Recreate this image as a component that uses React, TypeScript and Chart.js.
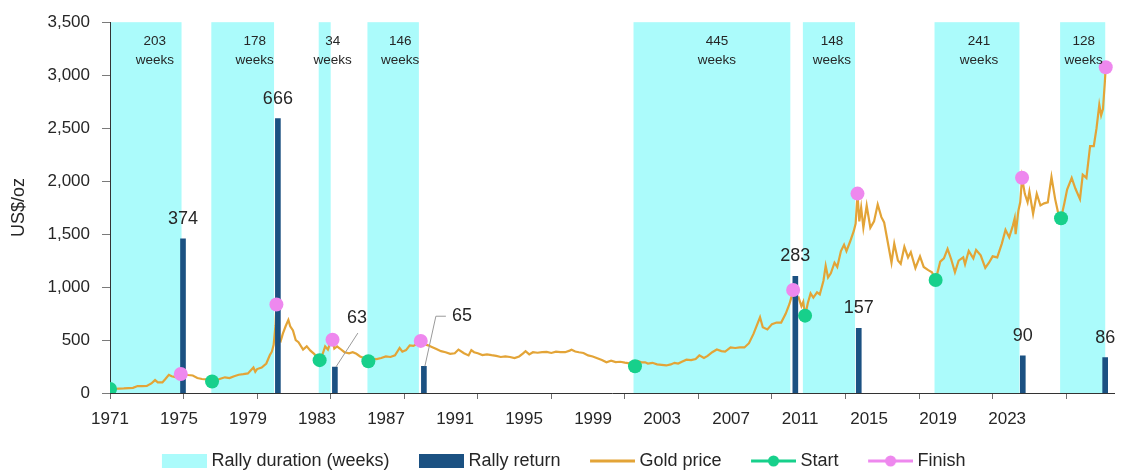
import { useEffect, useRef } from 'react';
import { Chart, registerables } from 'chart.js';

Chart.register(...registerables);

// Gold price (US$/oz) sampled through time, decimal years
const goldYears = [
  1971.0, 1971.25, 1971.5, 1971.75, 1972.0, 1972.25, 1972.5, 1972.75, 1973.0, 1973.25, 1973.45, 1973.6, 1973.85,
  1974.0, 1974.2, 1974.35, 1974.55, 1974.7, 1974.85, 1975.0, 1975.25, 1975.5, 1975.75, 1976.0, 1976.25, 1976.4,
  1976.55, 1976.75, 1977.0, 1977.25, 1977.5, 1977.75, 1978.0, 1978.25, 1978.5, 1978.8, 1978.9, 1979.0, 1979.25,
  1979.5, 1979.7, 1979.8, 1979.9, 1980.0, 1980.05, 1980.12, 1980.2, 1980.28, 1980.4, 1980.55, 1980.7, 1980.8,
  1980.95, 1981.1, 1981.25, 1981.5, 1981.7, 1981.9, 1982.1, 1982.3, 1982.4, 1982.55, 1982.7, 1982.85, 1982.95,
  1983.1, 1983.2, 1983.35, 1983.5, 1983.75, 1984.0, 1984.2, 1984.4, 1984.6, 1984.8, 1984.95, 1985.05, 1985.25,
  1985.5, 1985.75, 1986.0, 1986.25, 1986.5, 1986.75, 1986.9, 1987.1, 1987.3, 1987.5, 1987.7, 1987.9, 1988.1,
  1988.3, 1988.5, 1988.75, 1989.0, 1989.25, 1989.5, 1989.75, 1989.95, 1990.25, 1990.5, 1990.65, 1990.8, 1991.0,
  1991.25, 1991.5, 1991.75, 1992.0, 1992.25, 1992.5, 1992.75, 1993.0, 1993.25, 1993.45, 1993.6, 1993.8, 1994.0,
  1994.25, 1994.5, 1994.75, 1995.0, 1995.25, 1995.5, 1995.75, 1996.0, 1996.1, 1996.3, 1996.5, 1996.75, 1997.0,
  1997.25, 1997.5, 1997.75, 1998.0, 1998.25, 1998.5, 1998.75, 1999.0, 1999.25, 1999.45, 1999.55, 1999.75, 1999.9,
  2000.1, 2000.25, 2000.5, 2000.75, 2001.0, 2001.25, 2001.5, 2001.7, 2001.9, 2002.1, 2002.35, 2002.6, 2002.85,
  2003.05, 2003.3, 2003.5, 2003.75, 2004.0, 2004.25, 2004.45, 2004.75, 2005.0, 2005.25, 2005.5, 2005.75, 2006.0,
  2006.35, 2006.5, 2006.75, 2007.0, 2007.25, 2007.5, 2007.75, 2007.95, 2008.05, 2008.15, 2008.3, 2008.45, 2008.6,
  2008.7, 2008.8, 2008.95, 2009.1, 2009.25, 2009.45, 2009.6, 2009.8, 2009.92, 2010.05, 2010.2, 2010.4, 2010.55,
  2010.75, 2010.92, 2011.05, 2011.25, 2011.45, 2011.55, 2011.65, 2011.75, 2011.85, 2011.97, 2012.15, 2012.35,
  2012.55, 2012.75, 2012.95, 2013.1, 2013.3, 2013.5, 2013.65, 2013.85, 2014.0, 2014.2, 2014.4, 2014.55, 2014.8,
  2015.05, 2015.25, 2015.5, 2015.7, 2015.9, 2016.15, 2016.35, 2016.55, 2016.75, 2016.95, 2017.15, 2017.4, 2017.5,
  2017.7, 2017.95, 2018.1, 2018.35, 2018.6, 2018.8, 2019.0, 2019.25, 2019.5, 2019.7, 2019.9, 2020.1, 2020.2,
  2020.25, 2020.4, 2020.5, 2020.6, 2020.75, 2020.9, 2021.0, 2021.2, 2021.4, 2021.6, 2021.8, 2022.0, 2022.2,
  2022.4, 2022.55, 2022.72, 2022.9, 2023.05, 2023.3, 2023.5, 2023.75, 2023.9, 2024.1, 2024.3, 2024.5, 2024.65,
  2024.8, 2024.9, 2025.0, 2025.1, 2025.15,
];
const goldPrices = [
  38, 40, 42, 43, 46, 49, 66, 64, 66, 90, 122, 100, 100,
  130, 172, 158, 150, 155, 180, 176, 170, 165, 142, 132, 128, 118,
  109, 118, 134, 148, 141, 158, 172, 178, 185, 240, 200, 226, 240,
  278, 360, 390, 455, 640, 835, 660, 500, 490, 560, 630, 690, 630,
  590, 500, 480, 410, 440, 400, 370, 330, 310, 360, 440, 410, 460,
  502, 420, 440, 420, 385, 375, 385, 370, 345, 330, 305, 300, 325,
  320, 330, 345, 340, 355, 425, 390, 405, 450, 445, 465, 492, 460,
  450, 435, 415, 395, 385, 370, 375, 410, 375, 355, 405, 385, 375,
  358, 365, 357, 350, 340, 345, 340, 330, 345, 372, 395, 365, 385,
  380, 385, 388, 378, 390, 385, 385, 400, 408, 392, 385, 378, 355,
  345, 328, 312, 290, 305, 292, 295, 287, 280, 260, 253, 300, 290,
  290, 278, 285, 270, 265, 260, 270, 285, 278, 295, 315, 310, 320,
  355, 330, 350, 385, 410, 395, 390, 430, 425, 430, 430, 470, 560,
  715, 620, 600, 650, 665, 665, 750, 840, 900, 972, 880, 900, 820,
  860, 730, 850, 940, 900, 950, 930, 1060, 1200, 1090, 1130, 1230, 1190,
  1340, 1400, 1340, 1430, 1530, 1600, 1882, 1620, 1750, 1560, 1770, 1560,
  1620, 1780, 1660, 1610, 1420, 1230, 1410, 1250, 1220, 1380, 1280, 1330, 1180,
  1290, 1190, 1160, 1140, 1067, 1240, 1270, 1360, 1260, 1140, 1250, 1280, 1215,
  1340, 1270, 1350, 1300, 1180, 1230, 1290, 1280, 1410, 1540, 1470, 1580, 1650,
  1500, 1720, 1800, 2032, 1880, 1800, 1900, 1690, 1880, 1770, 1790, 1800, 2040,
  1830, 1710, 1650, 1790, 1920, 2030, 1930, 1830, 2060, 2030, 2330, 2330, 2500,
  2720, 2620, 2680, 2930, 3075,
];

// Rally periods: first week and length in weeks
const rallyStartYears = [1971.0, 1976.51, 1982.35, 1985.0, 1999.47, 2008.68, 2015.84, 2022.67];
const rallyWeeks = [203, 178, 34, 146, 445, 148, 241, 128];

// Rally start / finish points on the gold price
const startYears = [1971.0, 1976.55, 1982.4, 1985.05, 1999.55, 2008.8, 2015.9, 2022.72];
const startPrices = [38, 109, 310, 300, 253, 730, 1067, 1650];
const finishYears = [1974.85, 1980.05, 1983.1, 1987.9, 2008.15, 2011.65, 2020.6, 2025.15];
const finishPrices = [180, 835, 502, 492, 972, 1882, 2032, 3075];

// Rally return (%) plotted at the end of each rally
const returnYears = [1974.97, 1980.13, 1983.23, 1988.07, 2008.27, 2011.72, 2020.64, 2025.12];
const rallyReturns = [374, 666, 63, 65, 283, 157, 90, 86];

const yearTickLabels = ['1971', '1975', '1979', '1983', '1987', '1991', '1995', '1999', '2003', '2007', '2011', '2015', '2019', '2023'];
const priceTicks = [0, 500, 1000, 1500, 2000, 2500, 3000, 3500];

const FONT = "'Liberation Sans', Arial, Helvetica, sans-serif";
const CYAN = '#ABFBFB';
const NAVY = '#1B5182';
const GOLD = '#E3A437';
const GREEN = '#17D08B';
const PINK = '#EE88EE';
const TEXT = '#262626';

// Horizontal nudge (px) of each "NN weeks" label from its band centre
const weekLabelNudges = [9, 12, 8, 7, 5, 3, 2, 1];

// Return labels that sit off to the side with a leader line
const returnLabelNudges: Record<number, { dx: number; dy: number; elbow: boolean }> = {
  2: { dx: 22, dy: -29, elbow: false },
  3: { dx: 38, dy: -30, elbow: true },
};

const LEGEND_SLOT = 70;
const LEGEND_FONT = 18;
const LEFT_BLEED = 17;

function legendSymbol(kind: 'box' | 'line' | 'marker', color: string) {
  const extra = LEGEND_FONT / 2 - 4.5;
  const c = document.createElement('canvas');
  c.width = LEGEND_SLOT + 2 * extra;
  c.height = 18;
  const g = c.getContext('2d')!;
  const right = c.width;
  const w = 45;
  if (kind === 'box') {
    g.fillStyle = color;
    g.fillRect(right - w, 2, w, 14);
  } else {
    g.strokeStyle = color;
    g.lineWidth = 3;
    g.beginPath();
    g.moveTo(right - w, 9);
    g.lineTo(right, 9);
    g.stroke();
    if (kind === 'marker') {
      g.fillStyle = color;
      g.beginPath();
      g.arc(right - w / 2, 9, 5.5, 0, Math.PI * 2);
      g.fill();
    }
  }
  return c;
}

const rallyPlugin = {
  id: 'rallyAnnotations',
  beforeDraw(chart: any) {
    const { ctx, chartArea, scales } = chart;
    const x = scales.x;
    ctx.save();
    ctx.fillStyle = CYAN;
    rallyStartYears.forEach((s, i) => {
      const e = s + (rallyWeeks[i] * 7) / 365.25;
      const x0 = x.getPixelForValue(s);
      const x1 = x.getPixelForValue(e);
      ctx.fillRect(x0, chartArea.top, x1 - x0, chartArea.bottom - chartArea.top);
    });
    ctx.restore();
  },
  afterDatasetsDraw(chart: any) {
    const { ctx, chartArea, scales } = chart;
    const x = scales.x;
    ctx.save();
    ctx.fillStyle = TEXT;
    ctx.textAlign = 'center';
    ctx.textBaseline = 'middle';
    ctx.font = `13.5px ${FONT}`;
    rallyStartYears.forEach((s, i) => {
      const e = s + (rallyWeeks[i] * 7) / 365.25;
      const cx = (x.getPixelForValue(s) + x.getPixelForValue(e)) / 2 + weekLabelNudges[i];
      ctx.fillText(String(rallyWeeks[i]), cx, chartArea.top + 19);
      ctx.fillText('weeks', cx, chartArea.top + 38);
    });

    const meta = chart.getDatasetMeta(0);
    ctx.font = `18px ${FONT}`;
    meta.data.forEach((bar: any, i: number) => {
      const nudge = returnLabelNudges[i];
      const lx = bar.x + (nudge ? nudge.dx : 0);
      const ly = bar.y - 20 + (nudge ? nudge.dy : 0);
      if (nudge) {
        ctx.save();
        ctx.strokeStyle = '#9A9A9A';
        ctx.lineWidth = 1;
        ctx.beginPath();
        ctx.moveTo(bar.x + 1, bar.y);
        if (nudge.elbow) {
          ctx.lineTo(lx - 26, ly);
          ctx.lineTo(lx - 16, ly);
        } else {
          ctx.lineTo(lx + 1, ly + 15);
        }
        ctx.stroke();
        ctx.restore();
      }
      ctx.fillText(String(rallyReturns[i]), lx, ly);
    });
    ctx.restore();
  },
};

export default function App() {
  const canvasRef = useRef<HTMLCanvasElement>(null);

  useEffect(() => {
    document.body.style.margin = '0';
    const canvas = canvasRef.current;
    if (!canvas) return;

    const legendEntries = [
      { text: 'Rally duration (weeks)', symbol: legendSymbol('box', CYAN) },
      { text: 'Rally return', symbol: legendSymbol('box', NAVY) },
      { text: 'Gold price', symbol: legendSymbol('line', GOLD) },
      { text: 'Start', symbol: legendSymbol('marker', GREEN) },
      { text: 'Finish', symbol: legendSymbol('marker', PINK) },
    ];

    const labelStep = 69.08;

    const chart = new Chart(canvas, {
      type: 'line',
      data: {
        datasets: [
          {
            type: 'bar',
            label: 'Rally return',
            data: returnYears.map((yr, i) => ({ x: yr, y: rallyReturns[i] })),
            xAxisID: 'x',
            yAxisID: 'y2',
            backgroundColor: NAVY,
            barThickness: 5,
            order: 2,
          },
          {
            type: 'line',
            label: 'Gold price',
            data: goldYears.map((yr, i) => ({ x: yr, y: goldPrices[i] })),
            xAxisID: 'x',
            yAxisID: 'y',
            borderColor: GOLD,
            borderWidth: 2.2,
            pointRadius: 0,
            tension: 0,
            order: 3,
          },
          {
            type: 'line',
            label: 'Start',
            data: startYears.map((yr, i) => ({ x: yr, y: startPrices[i] })),
            xAxisID: 'x',
            yAxisID: 'y',
            showLine: false,
            pointRadius: 7,
            pointBackgroundColor: GREEN,
            pointBorderColor: GREEN,
            pointBorderWidth: 0,
            borderColor: GREEN,
            order: 1,
          },
          {
            type: 'line',
            label: 'Finish',
            data: finishYears.map((yr, i) => ({ x: yr, y: finishPrices[i] })),
            xAxisID: 'x',
            yAxisID: 'y',
            showLine: false,
            pointRadius: 7,
            pointBackgroundColor: PINK,
            pointBorderColor: PINK,
            pointBorderWidth: 0,
            borderColor: PINK,
            order: 0,
          },
        ],
      },
      options: {
        responsive: false,
        animation: false,
        devicePixelRatio: 1,
        events: [],
        layout: { padding: { top: 19, right: 6, bottom: -7, left: -LEFT_BLEED } },
        font: { family: FONT },
        scales: {
          x: {
            type: 'linear',
            position: 'bottom',
            weight: 0,
            min: 1971,
            max: 2025.6,
            offset: false,
            afterBuildTicks: (s: any) => {
              s.ticks = yearTickLabels.map((l) => ({ value: Number(l) }));
            },
            ticks: { display: false },
            grid: {
              display: true,
              offset: false,
              drawOnChartArea: false,
              drawTicks: true,
              tickLength: 6,
              color: '#6E6E6E',
            },
            border: { display: true, color: '#333333', width: 1 },
            afterFit: (s: any) => {
              s.height = 6;
            },
          },
          x2: {
            type: 'linear',
            position: 'bottom',
            weight: 1,
            min: 0,
            max: 1005 / labelStep,
            afterBuildTicks: (s: any) => {
              s.ticks = yearTickLabels.map((_, i) => ({ value: i }));
            },
            ticks: {
              callback: (v: any) => yearTickLabels[v] ?? '',
              font: { family: FONT, size: 17 },
              color: TEXT,
              padding: 2,
              maxRotation: 0,
              autoSkip: false,
            },
            grid: { display: false },
            border: { display: false },
            afterFit: (s: any) => {
              s.height = 53;
            },
          },
          y: {
            type: 'linear',
            position: 'left',
            min: 0,
            max: 3500,
            afterBuildTicks: (s: any) => {
              s.ticks = priceTicks.map((v) => ({ value: v }));
            },
            ticks: {
              callback: (v: any) => Number(v).toLocaleString('en-US'),
              font: { family: FONT, size: 17 },
              color: TEXT,
              padding: 12,
            },
            grid: {
              display: true,
              drawOnChartArea: false,
              drawTicks: true,
              tickLength: 8,
              color: '#7A7A7A',
            },
            border: { display: true, color: '#333333', width: 1 },
            title: {
              display: true,
              text: 'US$/oz',
              font: { family: FONT, size: 18 },
              color: TEXT,
              padding: { top: 8 + LEFT_BLEED, bottom: 0 },
            },
            afterFit: (s: any) => {
              s.width = 110 + LEFT_BLEED;
            },
          },
          y2: {
            type: 'linear',
            position: 'right',
            display: false,
            min: 0,
            max: 900,
          },
        },
        plugins: {
          tooltip: { enabled: false },
          legend: {
            display: true,
            position: 'bottom',
            labels: {
              usePointStyle: true,
              pointStyleWidth: LEGEND_SLOT,
              boxHeight: LEGEND_FONT,
              padding: 0,
              color: TEXT,
              font: { family: FONT, size: LEGEND_FONT },
              generateLabels: () =>
                legendEntries.map((e) => ({
                  text: e.text,
                  pointStyle: e.symbol,
                  fillStyle: 'rgba(0,0,0,0)',
                  strokeStyle: 'rgba(0,0,0,0)',
                  lineWidth: 0,
                  hidden: false,
                  fontColor: TEXT,
                })),
            },
          },
        },
      },
      plugins: [rallyPlugin],
    } as any);

    return () => chart.destroy();
  }, []);

  return (
    <div style={{ width: 1121, height: 473 }}>
      <canvas ref={canvasRef} width={1121} height={473} style={{ display: 'block' }} />
    </div>
  );
}
